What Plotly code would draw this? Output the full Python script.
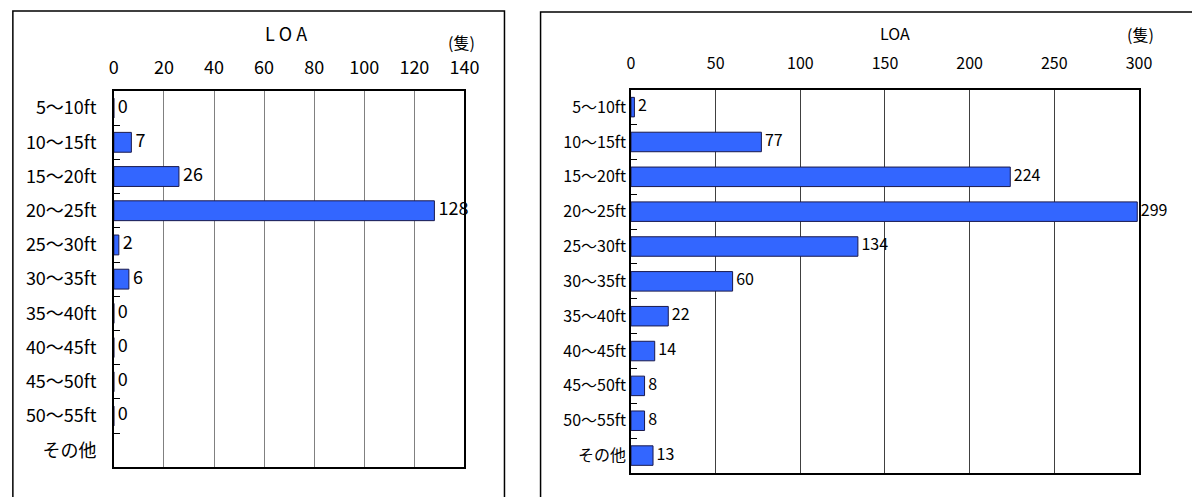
import plotly.graph_objects as go

categories = ["5～10ft", "10～15ft", "15～20ft", "20～25ft", "25～30ft", "30～35ft",
              "35～40ft", "40～45ft", "45～50ft", "50～55ft", "その他"]
left_values = [0, 7, 26, 128, 2, 6, 0, 0, 0, 0, None]
right_values = [2, 77, 224, 299, 134, 60, 22, 14, 8, 8, 13]
left_ticks = [0, 20, 40, 60, 80, 100, 120, 140]
right_ticks = [0, 50, 100, 150, 200, 250, 300]

W, H = 1192, 497
BAR = "#3366FF"
EDGE = "#1a1a4d"
FONT = "Noto Sans CJK JP"
SL = 18
SR = 16


def px(x):
    return x / W


def py(y):
    return 1 - y / H


fig = go.Figure()

fig.add_trace(go.Bar(
    x=left_values, y=categories, orientation="h", xaxis="x", yaxis="y",
    width=0.58, marker=dict(color=BAR, line=dict(color=EDGE, width=1)),
    hoverinfo="skip", showlegend=False))
fig.add_trace(go.Scatter(
    x=left_values, y=categories, xaxis="x", yaxis="y", mode="text",
    text=["" if v is None else " " + str(v) for v in left_values],
    textposition="middle right", textfont=dict(family=FONT, size=SL, color="black"),
    cliponaxis=False, hoverinfo="skip", showlegend=False))

fig.add_trace(go.Bar(
    x=right_values, y=categories, orientation="h", xaxis="x2", yaxis="y2",
    width=0.56, marker=dict(color=BAR, line=dict(color=EDGE, width=1)),
    hoverinfo="skip", showlegend=False))
fig.add_trace(go.Scatter(
    x=right_values, y=categories, xaxis="x2", yaxis="y2", mode="text",
    text=[" " + str(v) for v in right_values],
    textposition="middle right", textfont=dict(family=FONT, size=SR, color="black"),
    cliponaxis=False, hoverinfo="skip", showlegend=False))

common_x = dict(side="top", showgrid=True, gridwidth=1, showline=True,
                linecolor="black", linewidth=1.5, mirror=True, ticks="",
                zeroline=False, fixedrange=True)
common_y = dict(type="category", categoryorder="array", categoryarray=categories,
                range=[len(categories) - 0.5, -0.5], tickson="boundaries",
                ticks="inside", ticklen=6, tickcolor="black", tickwidth=1,
                showgrid=False, showline=True, linecolor="black", linewidth=1.5,
                mirror=True, fixedrange=True)

fig.update_layout(
    width=W, height=H,
    margin=dict(l=0, r=0, t=0, b=0),
    paper_bgcolor="white", plot_bgcolor="white",
    xaxis=dict(domain=[px(110.7), px(467.3)], range=[0, 140], tickvals=left_ticks,
               anchor="y", gridcolor="#808080", ticklabelstandoff=8,
               tickfont=dict(family=FONT, size=SL, color="black"), **common_x),
    yaxis=dict(domain=[py(467.3), py(91)], anchor="x", ticklabelstandoff=12,
               tickfont=dict(family=FONT, size=SL, color="black"), **common_y),
    xaxis2=dict(domain=[px(636.7), px(1153.3)], range=[0, 300], tickvals=right_ticks,
                anchor="y2", gridcolor="#404040", ticklabelstandoff=13,
                tickfont=dict(family=FONT, size=SR, color="black"), **common_x),
    yaxis2=dict(domain=[py(473), py(89.7)], anchor="x2", ticklabelstandoff=0,
                tickfont=dict(family=FONT, size=SR, color="black"), **common_y),
    shapes=[
        dict(type="rect", xref="paper", yref="paper", x0=px(8), x1=px(508),
             y0=-0.1, y1=py(11), line=dict(color="black", width=1.5), layer="below"),
        dict(type="rect", xref="paper", yref="paper", x0=px(544.7), x1=1.1,
             y0=-0.1, y1=py(12), line=dict(color="black", width=1.5), layer="below"),
    ],
    annotations=[
        dict(text="L O A", x=px(286), y=py(33), xref="paper", yref="paper",
             xanchor="center", yanchor="middle",
             showarrow=False, font=dict(family=FONT, size=SL, color="black")),
        dict(text="(隻)", x=px(464), y=py(42), xref="paper", yref="paper",
             xanchor="center", yanchor="middle",
             showarrow=False, font=dict(family=FONT, size=16, color="black")),
        dict(text="LOA", x=px(905), y=py(33), xref="paper", yref="paper",
             xanchor="center", yanchor="middle",
             showarrow=False, font=dict(family=FONT, size=SR, color="black")),
        dict(text="(隻)", x=px(1155), y=py(34), xref="paper", yref="paper",
             xanchor="center", yanchor="middle",
             showarrow=False, font=dict(family=FONT, size=SR, color="black")),
    ],
)

fig.write_html("out.html")
